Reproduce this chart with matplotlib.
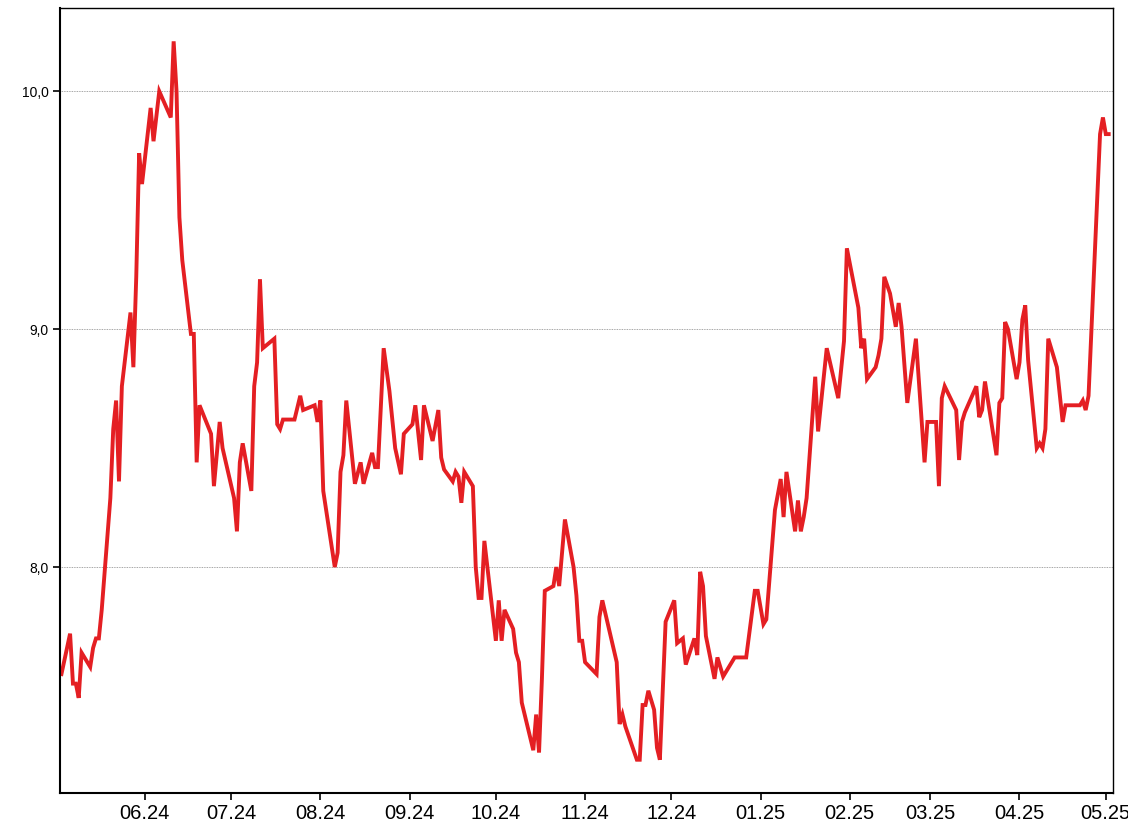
import pandas as pd
import numpy as np
import matplotlib.pyplot as plt
import matplotlib.dates as mdates
from matplotlib.ticker import FuncFormatter

# Datos de la serie (fecha, valor)
fechas = ['2024-05-03', '2024-05-06', '2024-05-07', '2024-05-08', '2024-05-09', '2024-05-10',
          '2024-05-13', '2024-05-14', '2024-05-15', '2024-05-16', '2024-05-17', '2024-05-20',
          '2024-05-21', '2024-05-22', '2024-05-23', '2024-05-24', '2024-05-27', '2024-05-28',
          '2024-05-29', '2024-05-30', '2024-05-31',
          '2024-06-03', '2024-06-04', '2024-06-06', '2024-06-10', '2024-06-11', '2024-06-12',
          '2024-06-13', '2024-06-14', '2024-06-17', '2024-06-18', '2024-06-19', '2024-06-20',
          '2024-06-24', '2024-06-25', '2024-06-27', '2024-06-28',
          '2024-07-02', '2024-07-03', '2024-07-04', '2024-07-05', '2024-07-08', '2024-07-09',
          '2024-07-10', '2024-07-11', '2024-07-12', '2024-07-16', '2024-07-17', '2024-07-18',
          '2024-07-19', '2024-07-23', '2024-07-25', '2024-07-26', '2024-07-30', '2024-07-31',
          '2024-08-01', '2024-08-02', '2024-08-06', '2024-08-07', '2024-08-08', '2024-08-09',
          '2024-08-10', '2024-08-13', '2024-08-15', '2024-08-16', '2024-08-19', '2024-08-20',
          '2024-08-21', '2024-08-23', '2024-08-25', '2024-08-27', '2024-08-29', '2024-08-30',
          '2024-09-02', '2024-09-03', '2024-09-05', '2024-09-06', '2024-09-09', '2024-09-11',
          '2024-09-12', '2024-09-13', '2024-09-16', '2024-09-17', '2024-09-18', '2024-09-19',
          '2024-09-20', '2024-09-23', '2024-09-24', '2024-09-25', '2024-09-26', '2024-09-27',
          '2024-10-01', '2024-10-02', '2024-10-03', '2024-10-04', '2024-10-07', '2024-10-08',
          '2024-10-09', '2024-10-10', '2024-10-14', '2024-10-15', '2024-10-16', '2024-10-17',
          '2024-10-18', '2024-10-21', '2024-10-22', '2024-10-23', '2024-10-25', '2024-10-28',
          '2024-10-29', '2024-10-30', '2024-10-31',
          '2024-11-01', '2024-11-05', '2024-11-06', '2024-11-07', '2024-11-12', '2024-11-13',
          '2024-11-14', '2024-11-15', '2024-11-19', '2024-11-20', '2024-11-21', '2024-11-22',
          '2024-11-23', '2024-11-25', '2024-11-26', '2024-11-27', '2024-11-29',
          '2024-12-02', '2024-12-03', '2024-12-05', '2024-12-06', '2024-12-09', '2024-12-10',
          '2024-12-11', '2024-12-12', '2024-12-13', '2024-12-16', '2024-12-17', '2024-12-19',
          '2024-12-23', '2024-12-27', '2024-12-30', '2024-12-31',
          '2025-01-02', '2025-01-03', '2025-01-06', '2025-01-08', '2025-01-09', '2025-01-10',
          '2025-01-13', '2025-01-14', '2025-01-15', '2025-01-16', '2025-01-17', '2025-01-20',
          '2025-01-21', '2025-01-24', '2025-01-28', '2025-01-30', '2025-01-31',
          '2025-02-04', '2025-02-05', '2025-02-06', '2025-02-07', '2025-02-10', '2025-02-11',
          '2025-02-12', '2025-02-13', '2025-02-15', '2025-02-17', '2025-02-18', '2025-02-19',
          '2025-02-21', '2025-02-24', '2025-02-27', '2025-02-28',
          '2025-03-03', '2025-03-04', '2025-03-05', '2025-03-06', '2025-03-10', '2025-03-11',
          '2025-03-12', '2025-03-13', '2025-03-17', '2025-03-18', '2025-03-19', '2025-03-20',
          '2025-03-24', '2025-03-25', '2025-03-26', '2025-03-27', '2025-03-28', '2025-03-31',
          '2025-04-01', '2025-04-02', '2025-04-03', '2025-04-04', '2025-04-07', '2025-04-08',
          '2025-04-09', '2025-04-10', '2025-04-11', '2025-04-14', '2025-04-16', '2025-04-17',
          '2025-04-22', '2025-04-23', '2025-04-24', '2025-04-25', '2025-04-29', '2025-04-30',
          '2025-05-01', '2025-05-02']

valores = [7.55, 7.72, 7.51, 7.51, 7.45, 7.64,
           7.58, 7.66, 7.70, 7.70, 7.82, 8.29,
           8.58, 8.70, 8.36, 8.76, 9.07, 8.84,
           9.22, 9.74, 9.61,
           9.93, 9.79, 10.00, 9.89, 10.21, 10.00,
           9.47, 9.29, 8.98, 8.98, 8.44, 8.68,
           8.56, 8.34, 8.61, 8.50,
           8.29, 8.15, 8.44, 8.52, 8.32, 8.76,
           8.86, 9.21, 8.92, 8.96, 8.60, 8.58,
           8.62, 8.62, 8.72, 8.66, 8.68, 8.61,
           8.70, 8.32, 8.00, 8.06, 8.40, 8.47,
           8.70, 8.35, 8.44, 8.35, 8.48, 8.42,
           8.42, 8.92, 8.74, 8.50, 8.39, 8.56,
           8.60, 8.68, 8.45, 8.68, 8.53, 8.66,
           8.46, 8.41, 8.36, 8.40, 8.38, 8.27,
           8.40, 8.34, 8.00, 7.87, 7.87, 8.11,
           7.69, 7.86, 7.69, 7.82, 7.74, 7.64,
           7.60, 7.43, 7.23, 7.38, 7.22, 7.53,
           7.90, 7.92, 8.00, 7.92, 8.20, 8.00,
           7.88, 7.69, 7.69,
           7.60, 7.55, 7.79, 7.86, 7.60, 7.34,
           7.38, 7.33, 7.19, 7.19, 7.42, 7.42,
           7.48, 7.40, 7.24, 7.19, 7.77,
           7.86, 7.68, 7.70, 7.59, 7.70, 7.63,
           7.98, 7.92, 7.71, 7.53, 7.62, 7.54,
           7.62, 7.62, 7.90, 7.90,
           7.76, 7.78, 8.24, 8.37, 8.21, 8.40,
           8.15, 8.28, 8.15, 8.21, 8.29, 8.80,
           8.57, 8.92, 8.71, 8.95, 9.34,
           9.09, 8.92, 8.96, 8.79, 8.84, 8.89,
           8.96, 9.22, 9.15, 9.01, 9.11, 9.01,
           8.69, 8.96, 8.44, 8.61,
           8.61, 8.34, 8.71, 8.76, 8.66, 8.45,
           8.61, 8.65, 8.76, 8.63, 8.66, 8.78,
           8.47, 8.69, 8.71, 9.03, 9.00, 8.79,
           8.86, 9.04, 9.10, 8.87, 8.50, 8.52,
           8.50, 8.58, 8.96, 8.84, 8.61, 8.68,
           8.68, 8.70, 8.66, 8.72, 9.82, 9.89,
           9.82, 9.82]

marcas_y = [8.0, 9.0, 10.0]

data = pd.DataFrame({'fecha': pd.to_datetime(fechas), 'valor': valores})

fig = plt.figure(figsize=(11.28, 8.36), dpi=100)
ax = fig.add_axes([0.0532, 0.0514, 0.9335, 0.939])

ax.plot(data.fecha, data.valor, color='#e41f23', linewidth=2.8, solid_joinstyle='miter')

ax.set_xlim(pd.Timestamp('2024-05-02 12:00'), pd.Timestamp('2025-05-03 12:00'))
ax.set_ylim(7.05, 10.35)

ax.xaxis.set_major_locator(mdates.MonthLocator())
ax.xaxis.set_major_formatter(mdates.DateFormatter('%m.%y'))
ax.set_yticks(marcas_y)
ax.yaxis.set_major_formatter(FuncFormatter(lambda v, p: ('%.1f' % v).replace('.', ',')))

ax.yaxis.grid(True, color='#888888', linestyle=(0, (1, 1)), linewidth=0.6)
ax.set_axisbelow(True)

ax.tick_params(axis='x', labelsize=14.5, length=5, width=1.2, direction='out', pad=3)
ax.tick_params(axis='y', labelsize=10, length=5, width=1.2, direction='out', pad=3)
for lbl in ax.get_xticklabels() + ax.get_yticklabels():
    lbl.set_fontfamily('Liberation Sans')

for s in ['left', 'bottom']:
    ax.spines[s].set_linewidth(1.5)
for s in ['top', 'right']:
    ax.spines[s].set_linewidth(1.0)

fig.savefig('out.png', dpi=100)
